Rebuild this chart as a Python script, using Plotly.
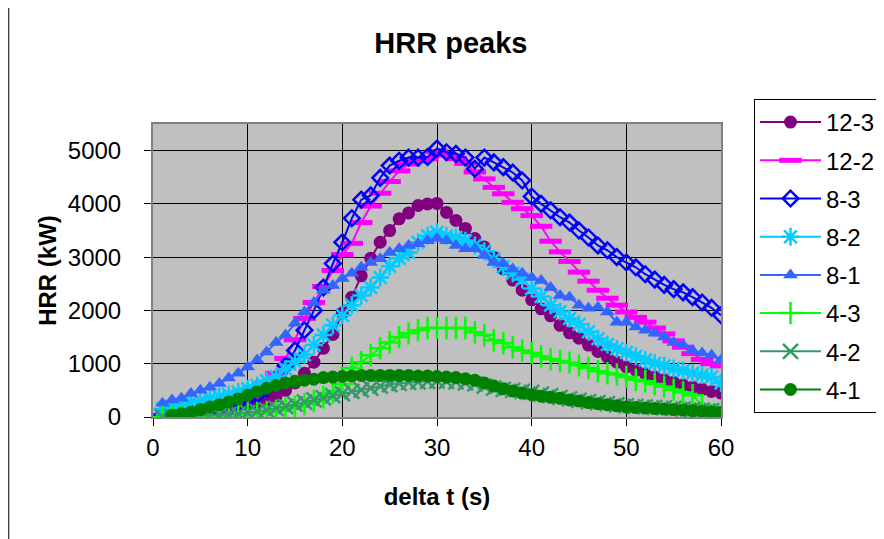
import plotly.graph_objects as go

t = list(range(1, 61))
t_41 = list(range(2, 61))
t_43 = list(range(1, 59))

names = ["12-3", "12-2", "8-3", "8-2", "8-1", "4-3", "4-2", "4-1"]

v12_3 = [20,40,60,80,100,120,150,170,200,230, 270,320,390,500,640,820,1030,1290,1550,1950,
         2250,2650,2980,3280,3500,3720,3830,3970,4000,4010, 3840,3690,3540,3350,3190,3000,2780,2570,2380,2200,
         2030,1900,1720,1580,1480,1350,1230,1130,1030,940, 880,810,750,700,650,600,560,520,480,450]
v12_2 = [30,50,70,90,110,140,170,210,270,380, 500,650,820,1100,1450,1850,2150,2450,2750,3050,
         3260,3650,3960,4200,4420,4620,4750,4810,4850,4980, 4920,4850,4760,4600,4470,4310,4190,4030,3910,3780,
         3580,3300,3100,2920,2720,2550,2380,2230,2100,1970, 1870,1780,1670,1560,1430,1310,1190,1080,1000,960]
v8_3 = [30,50,70,90,110,140,170,210,260,330, 420,540,700,960,1250,1630,2000,2430,2880,3280,
        3730,4080,4160,4490,4720,4810,4870,4870,4880,5040, 4970,4940,4870,4660,4870,4780,4690,4590,4440,4140,
        4000,3880,3750,3650,3500,3370,3220,3130,3000,2900, 2810,2680,2580,2480,2400,2340,2250,2150,2050,1910]
v8_2 = [150,200,240,280,310,350,380,420,470,530, 590,680,760,900,1040,1170,1350,1540,1720,1910,
        2100,2280,2430,2620,2830,2980,3090,3280,3400,3470, 3400,3370,3310,3220,3110,2960,2820,2700,2580,2410,
        2260,2100,1980,1850,1740,1600,1470,1360,1280,1210, 1140,1070,1010,960,910,870,820,790,750,640]
v8_1 = [260,320,350,440,500,560,630,730,820,940, 1070,1220,1400,1540,1760,1970,2150,2380,2470,2600,
        2700,2810,2900,2970,3090,3160,3220,3250,3310,3350, 3310,3220,3160,3160,3030,2900,2880,2780,2700,2620,
        2560,2430,2280,2250,2100,2040,2060,1970,1780,1780, 1690,1630,1570,1500,1400,1350,1250,1200,1160,1070]
v4_3 = [0,5,10,15,20,25,30,40,50,60, 75,95,120,150,190,240,300,370,460,620,
        920,1030,1160,1290,1400,1500,1570,1630,1670,1670, 1670,1670,1670,1590,1540,1440,1390,1310,1250,1200,
        1140,1090,1050,1020,970,920,860,820,800,750, 700,670,620,570,510,460,410,220]
v4_2 = [0,5,10,15,20,30,40,50,60,80, 100,130,160,200,240,280,320,360,400,440,
        480,510,540,580,610,630,650,660,670,680, 670,660,640,620,580,540,520,500,480,460,
        430,400,370,340,310,290,270,250,230,210, 200,190,180,170,160,150,140,130,120,110]
v4_1 = [30,60,90,140,190,230,280,340,410, 470,540,590,640,670,690,710,740,750,760,
        770,780,780,780,780,780,780,770,770,760, 750,740,720,690,640,580,530,490,450,420,
        390,370,350,320,300,270,250,230,210,190, 180,170,160,150,140,130,120,110,100,90]

series = [
    (names[0], t, v12_3, "#800080", dict(symbol="circle", size=13)),
    (names[1], t, v12_2, "#FF00FF", dict(symbol="line-ew", size=16, line=dict(width=5, color="#FF00FF"))),
    (names[2], t, v8_3, "#0000FF", dict(symbol="diamond-open", size=12, line=dict(width=2.5, color="#0000FF"))),
    (names[3], t, v8_2, "#00CCFF", dict(symbol="asterisk-open", size=15, line=dict(width=2.5, color="#00CCFF"))),
    (names[4], t, v8_1, "#3366FF", dict(symbol="triangle-up", size=13)),
    (names[5], t_43, v4_3, "#00FF00", dict(symbol="cross-thin-open", size=16, line=dict(width=2.5, color="#00FF00"))),
    (names[6], t, v4_2, "#339966", dict(symbol="x-thin-open", size=15, line=dict(width=2.5, color="#339966"))),
    (names[7], t_41, v4_1, "#008000", dict(symbol="circle", size=13)),
]

fig = go.Figure()
for i, (nm, xs, ys, col, mk) in enumerate(series):
    mk = dict(mk)
    mk["color"] = col
    fig.add_trace(go.Scatter(x=xs, y=ys, name=nm, mode="lines+markers",
                             line=dict(color=col, width=2), marker=mk,
                             legendgroup=nm))

L, R, T, B = 145, 714, 116, 409
fig.update_layout(
    width=884, height=539,
    margin=dict(l=L, r=884 - R, t=T, b=539 - B),
    paper_bgcolor="white", plot_bgcolor="#C0C0C0",
    font=dict(family="Liberation Sans, Arial, sans-serif", size=24, color="black"),
    title=dict(text="<b>HRR peaks</b>", x=0.501, xanchor="center", y=0.935, yanchor="middle",
               font=dict(size=29)),
    showlegend=True,
    legend=dict(x=(746 - L) / (R - L), xanchor="left", y=(B - 91) / (B - T), yanchor="top",
                bgcolor="white", bordercolor="black", borderwidth=1,
                font=dict(size=24), itemwidth=61, tracegroupgap=4,
                traceorder="grouped", maxheight=420),
)
fig.update_xaxes(range=[0, 60], dtick=10, tick0=0, showgrid=True, gridcolor="black", gridwidth=1,
                 showline=True, linecolor="#808080", linewidth=2, mirror=True,
                 ticks="outside", ticklen=7, tickcolor="black", zeroline=False,
                 ticklabelstandoff=1, automargin=False,
                 title=dict(text="<b>delta t (s)</b>", standoff=28, font=dict(size=24)))
fig.update_yaxes(range=[0, 5500], tickvals=[0, 1000, 2000, 3000, 4000, 5000], showgrid=True,
                 gridcolor="black", gridwidth=1,
                 showline=True, linecolor="#808080", linewidth=2, mirror=True,
                 ticks="outside", ticklen=7, tickcolor="black", zeroline=False,
                 ticklabelstandoff=18, automargin=False,
                 title=dict(text="<b>HRR (kW)</b>", standoff=4, font=dict(size=24)))

fig.add_shape(type="line", xref="paper", yref="paper",
              x0=(0.5 - L) / (R - L), x1=(0.5 - L) / (R - L),
              y0=(B - 539) / (B - T), y1=(B + 10) / (B - T),
              line=dict(color="black", width=1), layer="below")

fig.write_html("out.html")
